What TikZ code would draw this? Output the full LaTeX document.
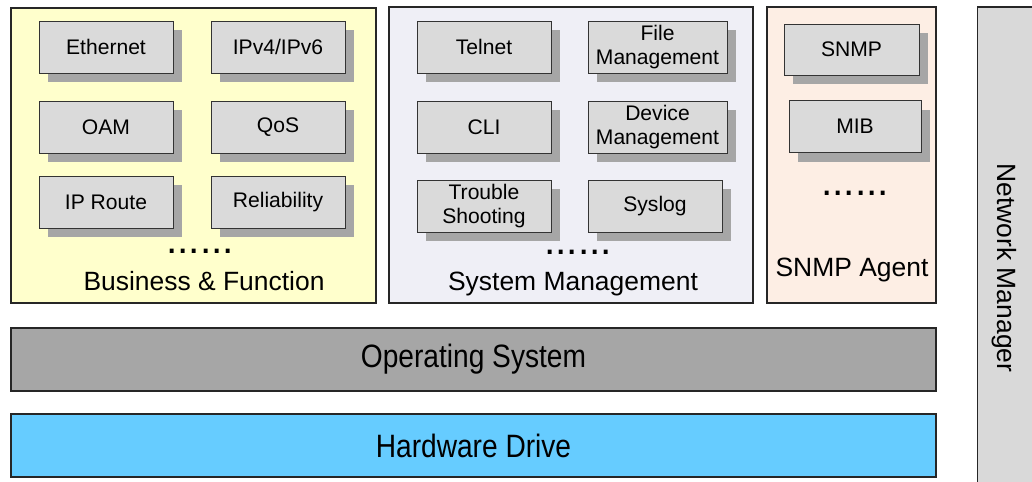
\documentclass[tikz,border=0pt]{standalone}
\usepackage{fontspec}
\setmainfont{Liberation Sans}
\usetikzlibrary{shadows}
\definecolor{bizfill}{HTML}{FFFFCC}
\definecolor{sysfill}{HTML}{EFEFF6}
\definecolor{agentfill}{HTML}{FDEEE4}
\definecolor{modfill}{HTML}{DADADA}
\definecolor{shadowgray}{HTML}{A6A6A6}
\definecolor{osfill}{HTML}{A6A6A6}
\definecolor{hwfill}{HTML}{66CCFF}
\definecolor{nmfill}{HTML}{D9D9D9}
\tikzstyle{panel} = [draw=black!85, line width=0.9pt, rectangle, inner sep=0pt]
\tikzstyle{module} = [draw=black!80, fill=modfill, rectangle, line width=0.6pt, inner sep=0pt, minimum width=3.35cm, minimum height=1.3cm, align=center, font={\fontsize{15}{17.5}\selectfont}, drop shadow={shadow xshift=0.225cm, shadow yshift=-0.225cm, fill=shadowgray, opacity=1}]
\tikzstyle{paneltitle} = [font={\fontsize{18.8}{20}\selectfont}, anchor=base]
\tikzstyle{ellipsis} = [font={\fontsize{29}{29}\selectfont}, anchor=base, inner sep=0pt]
\tikzstyle{stack} = [panel, line width=1.1pt, minimum width=23.125cm, minimum height=1.575cm, font={\fontsize{20}{22}\selectfont}]

\begin{document}
\begin{tikzpicture}[x=0.025cm, y=-0.025cm]
    \useasboundingbox (0,0) rectangle (1032,481);
    % three upper panels
    \node[panel, fill=bizfill, minimum width=9.125cm, minimum height=7.375cm](biz) at (193.5,155.5){};
    \node[panel, fill=sysfill, minimum width=9.1cm, minimum height=7.4cm](sys) at (571,155){};
    \node[panel, fill=agentfill, minimum width=4.225cm, minimum height=7.4cm](agent) at (851.5,155){};
    \node[panel, fill=nmfill, minimum width=1.7cm, minimum height=12.3cm](nm) at (1011.5,253){};
    % business & function
    \node[module](eth) at (106,47){Ethernet};
    \node[module](ip) at (278,47){IPv4/IPv6};
    \node[module](oam) at (106,127){OAM};
    \node[module](qos) at (278,127){QoS};
    \node[module](route) at (106,202){IP Route};
    \node[module](rel) at (278,202){Reliability};
    \node[ellipsis](bizmore) at (200,253){......};
    \node[paneltitle](biztitle) at (204,290){Business \& Function};
    % system management
    \node[module](telnet) at (484,47){Telnet};
    \node[module, minimum width=3.475cm](file) at (657.5,47){File\\Management};
    \node[module](cli) at (484,127){CLI};
    \node[module, minimum width=3.475cm](dev) at (657.5,127){Device\\Management};
    \node[module](trouble) at (484,206){Trouble\\Shooting};
    \node[module](syslog) at (655,206){Syslog};
    \node[ellipsis](sysmore) at (578,254){......};
    \node[paneltitle](systitle) at (573,290){System Management};
    % snmp agent
    \node[module, minimum width=3.375cm, minimum height=1.275cm](snmp) at (851.5,49.5){SNMP};
    \node[module, minimum width=3.3cm](mib) at (855,126.5){MIB};
    \node[ellipsis](agentmore) at (855,195){......};
    \node[paneltitle](agenttitle) at (852,276){SNMP Agent};
    \node[font={\fontsize{18.8}{20}\selectfont}, rotate=-90](nmtitle) at (1004,268){Network Manager};
    % lower layers
    \node[stack, fill=osfill](os) at (473.5,359.5){\scalebox{1}[1.15]{Operating System}};
    \node[stack, fill=hwfill](hw) at (473.5,445.5){\scalebox{1}[1.15]{Hardware Drive}};
  \end{tikzpicture}
\end{document}
